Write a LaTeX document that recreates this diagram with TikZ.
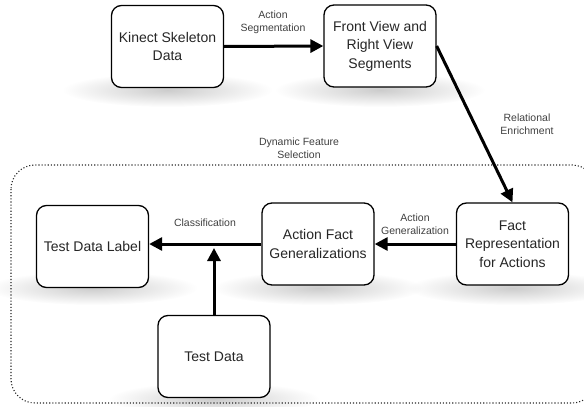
\documentclass[tikz,border=0pt]{standalone}
\usepackage{fontspec}
\setmainfont{Liberation Sans}
\usetikzlibrary{arrows.meta,fadings}
% radial fade from opaque centre to clear rim, for the floor shadows
\tikzfading[name=softfloor, inner color=transparent!0, outer color=transparent!100]
\begin{document}
\begin{tikzpicture}[x=1pt,y=-1pt,
  stage/.style={draw=black, line width=1.3pt, rounded corners=10pt, fill=white,
    minimum width=112pt, minimum height=82pt, align=center, inner sep=2pt,
    text=black!85, font=\fontsize{14}{18.5}\selectfont},
  flow/.style={line width=3pt, -{Triangle[length=13pt,width=13pt]}},
  tag/.style={align=center, text=black!75, font=\fontsize{10.5}{13}\selectfont},
  floor/.style={fill=black!20, path fading=softfloor},
  frame/.style={draw=black!85, line width=1.1pt, dash pattern=on 1.1pt off 2pt, rounded corners=24pt}]
\useasboundingbox (0,0) rectangle (584,407);

% soft floor shadows under the boxes
\fill[floor] (167.5,90) ellipse (105pt and 17pt);
\fill[floor] (380,90) ellipse (105pt and 17pt);
\fill[floor] (512.5,288) ellipse (105pt and 17pt);
\fill[floor] (318,288) ellipse (105pt and 17pt);
\fill[floor] (92.5,288) ellipse (105pt and 17pt);
\fill[floor] (214,399) ellipse (105pt and 17pt);

% dotted region of the feature selection stage
\draw[frame] (11,165) rectangle (596,403);

% stages
\node[stage] (kinect) at (167.5,46.5) {Kinect Skeleton\\Data};
\node[stage] (front) at (380,46) {Front View and\\Right View\\Segments};
\node[stage] (fact) at (512.5,244) {Fact\\Representation\\for Actions};
\node[stage] (afg) at (318,244) {Action Fact\\Generalizations};
\node[stage] (tdl) at (92.5,246.5) {Test Data Label};
\node[stage] (td) at (214,356.5) {Test Data};

% connectors
\draw[flow] (kinect.east) -- (front.west);
\draw[flow] (front.east) -- (fact.north);
\draw[flow] (fact.west) -- (afg.east);
\draw[flow] (afg.west) -- (afg.west -| tdl.east);
\draw[flow, shorten >=4pt] (td.north) -- (td.north |- afg.west);

% connector labels
\node[tag] (segl) at (273,22.5) {Action\\Segmentation};
\node[tag] (rell) at (527,124) {Relational\\Enrichment};
\node[tag] (dynl) at (299,148) {Dynamic Feature\\Selection};
\node[tag] (genl) at (415,224) {Action\\Generalization};
\node[tag] (clsl) at (205,223) {Classification};
\end{tikzpicture}
\end{document}
